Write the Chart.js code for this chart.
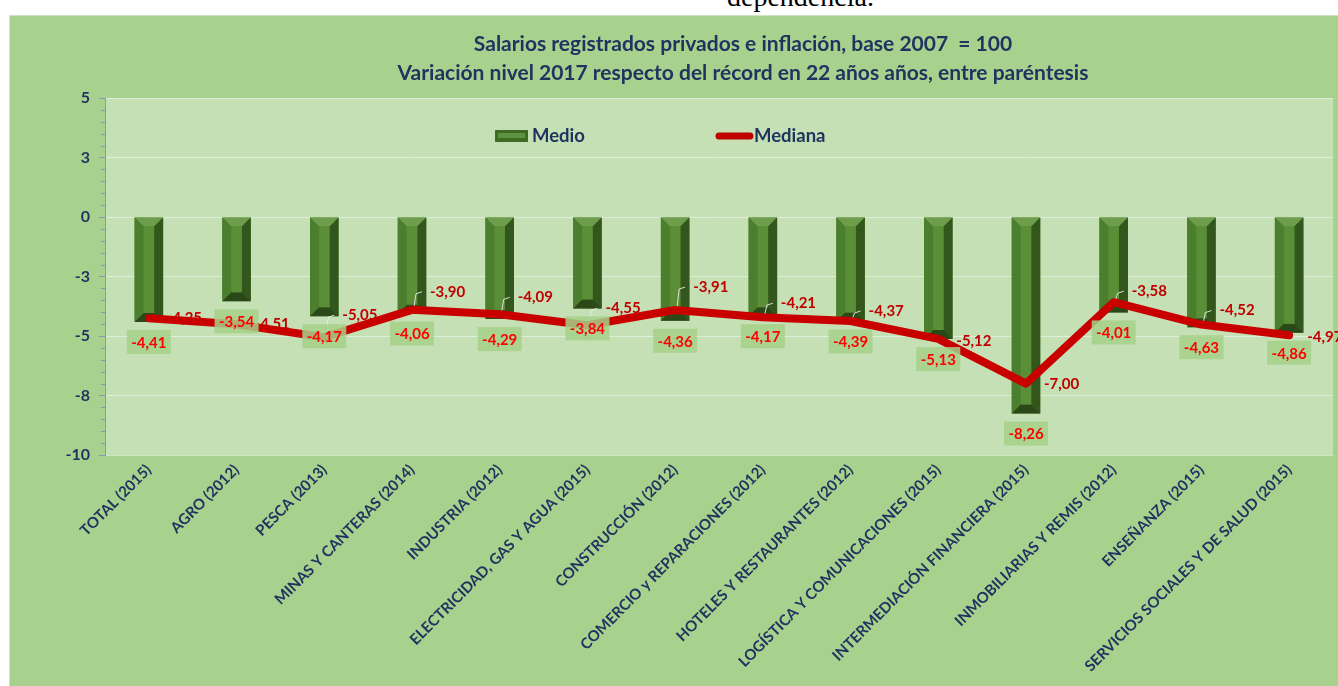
<!DOCTYPE html>
<html>
<head>
<meta charset="utf-8">
<script src="https://cdn.jsdelivr.net/npm/chart.js@4.4.1/dist/chart.umd.min.js"></script>
<style>
html,body{margin:0;padding:0;background:#fff;width:1338px;height:686px;overflow:hidden;position:relative;}
#top{position:absolute;left:727px;top:-17px;font-family:"Liberation Serif","DejaVu Serif",serif;font-size:28px;line-height:28px;color:#000;white-space:nowrap;}
#wrap{position:absolute;left:9px;top:15px;width:1329px;height:671px;background:#a9d18e;border-top:1px solid #cfe3c2;border-left:1px solid #cfe3c2;box-sizing:border-box;}
canvas{display:block;position:absolute;left:-1px;top:-1px;}
</style>
</head>
<body>
<div id="top">dependencia.</div>
<div id="wrap"><canvas id="c" width="1329" height="671"></canvas></div>
<script>
// ---- data ----
const categories = [
  'TOTAL (2015)', 'AGRO (2012)', 'PESCA (2013)', 'MINAS Y CANTERAS (2014)', 'INDUSTRIA (2012)',
  'ELECTRICIDAD, GAS Y AGUA (2015)', 'CONSTRUCCIÓN (2012)', 'COMERCIO y REPARACIONES (2012)',
  'HOTELES Y RESTAURANTES (2012)', 'LOGÍSTICA Y COMUNICACIONES (2015)', 'INTERMEDIACIÓN FINANCIERA (2015)',
  'INMOBILIARIAS Y REMIS (2012)', 'ENSEÑANZA (2015)', 'SERVICIOS SOCIALES Y DE SALUD (2015)'
];
const medio   = [-4.41, -3.54, -4.17, -4.06, -4.29, -3.84, -4.36, -4.17, -4.39, -5.13, -8.26, -4.01, -4.63, -4.86];
const mediana = [-4.25, -4.51, -5.05, -3.90, -4.09, -4.55, -3.91, -4.21, -4.37, -5.12, -7.00, -3.58, -4.52, -4.97];
const seriesNames = ['Medio', 'Mediana'];
const titleLines = [
  'Salarios registrados privados e inflación, base 2007  = 100',
  'Variación nivel 2017 respecto del récord en 22 años años, entre paréntesis'
];
const yMin = -10, yMax = 5, yStep = 2.5;

// ---- label placement (style, not data) ----
const medianaLabelDy = [0, 0, -22, -18, -17, -17, -23, -14, -10, 2, 1, -11, -14, 2];

const NAVY = '#1f3560';
const FONT = 'Lato, "Open Sans", sans-serif';
const fmt = v => v.toFixed(2).replace('.', ',');

const bgPlugin = {
  id: 'bg',
  beforeDraw(chart) {
    const {ctx, chartArea: a} = chart;
    ctx.save();
    ctx.fillStyle = '#c5e0b4';
    ctx.fillRect(a.left, a.top, a.right - a.left, a.bottom - a.top);
    ctx.restore();
  },
  afterDraw(chart) {
    const {ctx, chartArea: a} = chart;
    const ys = chart.scales.y;
    ctx.save();
    ctx.strokeStyle = '#7f9cc0';
    ctx.lineWidth = 1;
    for (let i = 0; i <= (yMax - yMin) / 0.5; i++) {
      const v = yMin + i * 0.5;
      if (Math.abs(v / yStep - Math.round(v / yStep)) < 1e-6) continue;
      const py = Math.round(ys.getPixelForValue(v)) + 0.5;
      ctx.beginPath(); ctx.moveTo(a.left - 4, py); ctx.lineTo(a.left, py); ctx.stroke();
    }
    ctx.restore();
  }
};

function poly(ctx, pts, color) {
  ctx.fillStyle = color;
  ctx.beginPath();
  ctx.moveTo(pts[0][0], pts[0][1]);
  for (let i = 1; i < pts.length; i++) ctx.lineTo(pts[i][0], pts[i][1]);
  ctx.closePath();
  ctx.fill();
}

const decoPlugin = {
  id: 'deco',
  beforeDatasetDraw(chart, args) {
    if (args.index !== 1) return;
    const {ctx} = chart;
    const meta = chart.getDatasetMeta(1);
    ctx.save();
    ctx.font = 'bold 15px ' + FONT;
    ctx.textBaseline = 'middle';
    ctx.textAlign = 'left';
    meta.data.forEach((pt, i) => {
      const dy = medianaLabelDy[i];
      const lx = pt.x + 18, ly = pt.y + dy;
      if (dy < -6) {
        ctx.strokeStyle = 'rgba(235,235,235,0.9)';
        ctx.lineWidth = 1;
        ctx.beginPath();
        ctx.moveTo(pt.x + 2, pt.y - 3);
        ctx.lineTo(pt.x + 4, ly + 2);
        ctx.lineTo(pt.x + 10, ly);
        ctx.stroke();
      }
      ctx.fillStyle = '#c00000';
      ctx.fillText(fmt(mediana[i]), lx, ly);
    });
    ctx.restore();
  },
  afterDatasetDraw(chart, args) {
    if (args.index !== 0) return;
    const {ctx} = chart;
    const meta = chart.getDatasetMeta(0);
    ctx.save();
    meta.data.forEach(el => {
      const p = el.getProps(['x', 'y', 'base', 'width'], true);
      const x0 = p.x - p.width / 2, x1 = p.x + p.width / 2;
      const t = Math.min(p.y, p.base), b = Math.max(p.y, p.base);
      const bv = 9;
      poly(ctx, [[x0, t], [x1, t], [x1 - bv, t + bv], [x0 + bv, t + bv]], '#6e9d4c');
      poly(ctx, [[x0, t], [x0 + bv, t + bv], [x0 + bv, b - bv], [x0, b]], '#4c7f2d');
      poly(ctx, [[x1, t], [x1, b], [x1 - bv, b - bv], [x1 - bv, t + bv]], '#32561c');
      poly(ctx, [[x0, b], [x1, b], [x1 - bv, b - bv], [x0 + bv, b - bv]], '#2b4918');
      poly(ctx, [[x0 + bv, t + bv], [x1 - bv, t + bv], [x1 - bv, b - bv], [x0 + bv, b - bv]], '#5a8f37');
    });
    ctx.restore();
  },
  afterDatasetsDraw(chart) {
    const {ctx} = chart;
    const meta = chart.getDatasetMeta(0);
    ctx.save();
    ctx.font = 'bold 15px ' + FONT;
    ctx.textBaseline = 'middle';
    ctx.textAlign = 'center';
    meta.data.forEach((el, i) => {
      const cx = el.x, cy = el.y + 20;
      ctx.fillStyle = 'rgba(166,208,138,0.85)';
      ctx.fillRect(cx - 22, cy - 12, 44, 24);
      ctx.fillStyle = '#ff0000';
      ctx.fillText(fmt(medio[i]), cx, cy + 1);
    });
    // title
    ctx.fillStyle = NAVY;
    ctx.font = 'bold 21px ' + FONT;
    ctx.fillText(titleLines[0], 734, 29);
    ctx.fillText(titleLines[1], 734, 58);
    // legend
    ctx.textAlign = 'left';
    ctx.font = 'bold 18.5px ' + FONT;
    const ly = 121;
    ctx.fillStyle = '#3f6b25';
    ctx.fillRect(486, ly - 6, 33, 12);
    ctx.fillStyle = '#5e9140';
    ctx.fillRect(489, ly - 3, 27, 5);
    ctx.fillStyle = NAVY;
    ctx.fillText(seriesNames[0], 523, ly);
    ctx.strokeStyle = '#c00000';
    ctx.lineWidth = 7;
    ctx.lineCap = 'round';
    ctx.beginPath(); ctx.moveTo(710, ly); ctx.lineTo(741, ly); ctx.stroke();
    ctx.fillStyle = NAVY;
    ctx.fillText(seriesNames[1], 745, ly);
    ctx.restore();
  }
};

new Chart(document.getElementById('c'), {
  type: 'bar',
  data: {
    labels: categories,
    datasets: [
      {
        type: 'bar', label: seriesNames[0], data: medio, order: 2,
        backgroundColor: '#4c7f2d', borderWidth: 0,
        barPercentage: 0.325, categoryPercentage: 1
      },
      {
        type: 'line', label: seriesNames[1], data: mediana, order: 1,
        borderColor: '#c80000', borderWidth: 8, pointRadius: 0, tension: 0,
        borderJoinStyle: 'round', borderCapStyle: 'round', fill: false
      }
    ]
  },
  options: {
    responsive: false,
    animation: false,
    devicePixelRatio: 1,
    layout: { padding: { left: 0, right: 5, top: 83, bottom: 0 } },
    plugins: { legend: { display: false }, title: { display: false }, tooltip: { enabled: false } },
    scales: {
      x: {
        offset: true,
        grid: { display: false, drawTicks: false },
        border: { display: false },
        ticks: {
          autoSkip: false, maxRotation: 45, minRotation: 45, padding: 6,
          color: NAVY, font: { family: FONT, weight: 'bold', size: 15 }
        },
        afterFit(s) { s.height = 231; }
      },
      y: {
        min: yMin, max: yMax,
        grid: { color: 'rgba(255,255,255,0.45)', tickColor: '#7f9cc0', tickLength: 6, drawTicks: true },
        border: { display: true, color: '#7f9cc0', width: 1 },
        ticks: {
          stepSize: yStep, padding: 9, color: NAVY,
          font: { family: FONT, weight: 'bold', size: 16 },
          callback: v => String(Math.sign(v) * Math.round(Math.abs(v)))
        },
        afterFit(s) { s.width = 96; }
      }
    }
  },
  plugins: [bgPlugin, decoPlugin]
});
</script>
</body>
</html>
